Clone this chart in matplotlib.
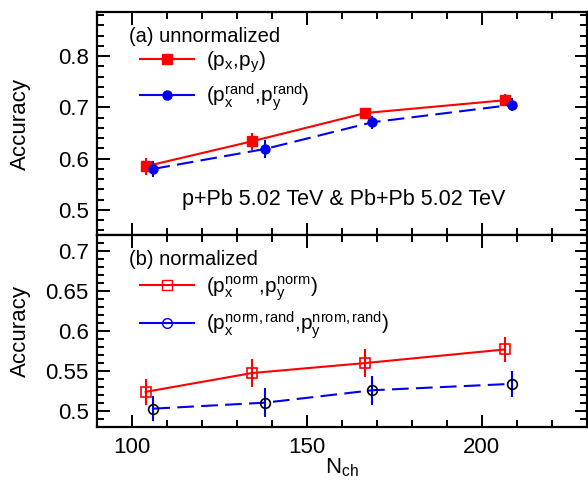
import numpy as np
import matplotlib
matplotlib.use("Agg")
import matplotlib.pyplot as plt
from matplotlib.lines import Line2D
from matplotlib.ticker import MultipleLocator

plt.rcParams['font.family'] = ['Liberation Sans', 'DejaVu Sans']
plt.rcParams['mathtext.fontset'] = 'custom'
plt.rcParams['mathtext.rm'] = 'Liberation Sans'
plt.rcParams['mathtext.it'] = 'Liberation Sans'

# panel (a) unnormalized
nch_a_red = [103.9, 134.4, 166.7, 206.6]
acc_a_red = [0.585, 0.634, 0.689, 0.714]
err_a_red = [0.017, 0.017, 0.010, 0.012]
nch_a_blue = [106.1, 138.1, 168.7, 208.7]
acc_a_blue = [0.580, 0.619, 0.671, 0.705]
err_a_blue = [0.016, 0.017, 0.013, 0.013]

# panel (b) normalized
nch_b_red = [103.9, 134.3, 166.7, 206.6]
acc_b_red = [0.524, 0.5475, 0.560, 0.577]
err_b_red = [0.016, 0.017, 0.017, 0.016]
nch_b_blue = [106.1, 138.1, 168.7, 208.7]
acc_b_blue = [0.503, 0.5105, 0.526, 0.534]
err_b_blue = [0.016, 0.018, 0.018, 0.016]

RED = '#ff0000'
BLUE = '#0000ee'

fig = plt.figure(figsize=(5.88, 4.82), dpi=100)
axa = fig.add_axes([0.165, 0.5124, 0.833, 0.4626])
axb = fig.add_axes([0.165, 0.114, 0.833, 0.3984], sharex=axa)

def style(ax):
    for s in ax.spines.values():
        s.set_linewidth(1.6)
    ax.tick_params(which='both', direction='in', top=True, right=True,
                   labelsize=16, width=1.4, pad=6)
    ax.tick_params(which='major', length=9)
    ax.tick_params(which='minor', length=5)
    ax.xaxis.set_major_locator(MultipleLocator(50))
    ax.xaxis.set_minor_locator(MultipleLocator(10))

# ---- top panel
axa.errorbar(nch_a_red, acc_a_red, yerr=err_a_red, color=RED, marker='s',
             ms=6.5, lw=1.5, elinewidth=1.5, capsize=0)
axa.errorbar(nch_a_blue, acc_a_blue, yerr=err_a_blue, color=BLUE, marker='o',
             ms=6.5, lw=1.5, elinewidth=1.5, capsize=0, dashes=(8, 3.5))
axa.set_xlim(90, 230)
axa.set_ylim(0.451, 0.886)
axa.yaxis.set_major_locator(MultipleLocator(0.1))
axa.yaxis.set_minor_locator(MultipleLocator(0.02))
style(axa)
axa.tick_params(labelbottom=False)
axa.set_ylabel('Accuracy', fontsize=16)
axa.yaxis.set_label_coords(-0.135, 0.5)

axa.text(0.065, 0.935, '(a) unnormalized', transform=axa.transAxes,
         fontsize=14.5, va='top')
h_a = [Line2D([], [], color=RED, marker='s', ms=6.5, lw=1.5),
       Line2D([], [], color=BLUE, marker='o', ms=6.5, lw=1.5)]
lab_a = [r'$(\mathrm{p_x}{,}\mathrm{p_y})$',
         r'$(\mathrm{p_x^{rand}}{,}\mathrm{p_y^{rand}})$']
axa.legend(h_a, lab_a, loc='upper left', bbox_to_anchor=(0.07, 0.87),
           frameon=False, fontsize=15, handlelength=2.6, handletextpad=0.6,
           labelspacing=0.3, borderaxespad=0)
axa.text(0.504, 0.16, 'p+Pb 5.02 TeV & Pb+Pb 5.02 TeV', transform=axa.transAxes,
         fontsize=15.5, ha='center', va='center')

# ---- bottom panel
axb.errorbar(nch_b_red, acc_b_red, yerr=err_b_red, color=RED, marker='s',
             mfc='none', mec=RED, ms=7, mew=1.2, lw=1.5, elinewidth=1.5, capsize=0)
axb.errorbar(nch_b_blue, acc_b_blue, yerr=err_b_blue, color=BLUE, marker='o',
             mfc='none', mec='black', ms=7, mew=1.2, lw=1.5, elinewidth=1.5,
             capsize=0, dashes=(8, 3.5))
axb.set_ylim(0.48, 0.72)
axb.yaxis.set_major_locator(MultipleLocator(0.05))
axb.yaxis.set_minor_locator(MultipleLocator(0.01))
style(axb)
axb.set_yticks([0.5, 0.55, 0.6, 0.65, 0.7])
axb.set_yticklabels(['0.5', '0.55', '0.6', '0.65', '0.7'])
axb.set_ylabel('Accuracy', fontsize=16)
axb.yaxis.set_label_coords(-0.135, 0.5)
axb.tick_params(axis='x', pad=7)
axb.set_xlabel(r'$\mathrm{N_{ch}}$', fontsize=16, labelpad=-1)

axb.text(0.065, 0.92, '(b) normalized', transform=axb.transAxes,
         fontsize=14.5, va='top')
h_b = [Line2D([], [], color=RED, marker='s', mfc='none', ms=7, lw=1.5),
       Line2D([], [], color=BLUE, marker='o', mfc='none', ms=7, lw=1.5)]
lab_b = [r'$(\mathrm{p_x^{norm}}{,}\mathrm{p_y^{norm}})$',
         r'$(\mathrm{p_x^{norm,rand}}{,}\mathrm{p_y^{nrom,rand}})$']
axb.legend(h_b, lab_b, loc='upper left', bbox_to_anchor=(0.07, 0.84),
           frameon=False, fontsize=15, handlelength=2.6, handletextpad=0.6,
           labelspacing=0.3, borderaxespad=0)

fig.savefig('out.png', dpi=100)
